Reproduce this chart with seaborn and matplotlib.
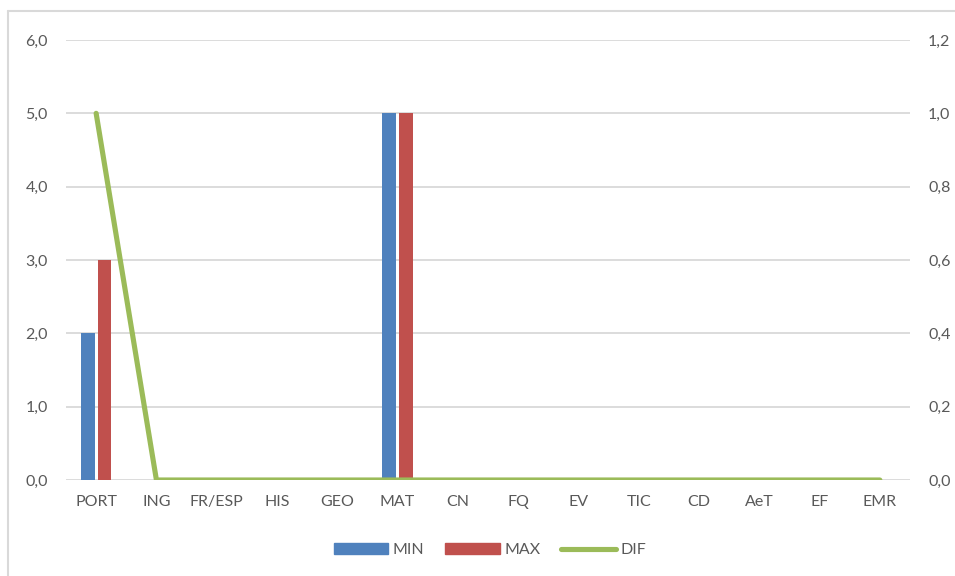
import numpy as np
import pandas as pd
import matplotlib
matplotlib.use("Agg")
import matplotlib.pyplot as plt
from matplotlib.lines import Line2D
from matplotlib.patches import Patch
from matplotlib.ticker import FuncFormatter
import seaborn as sns

# datos
disciplinas = ["PORT", "ING", "FR/ESP", "HIS", "GEO", "MAT", "CN", "FQ",
               "EV", "TIC", "CD", "AeT", "EF", "EMR"]
minimo = [2, 0, 0, 0, 0, 5, 0, 0, 0, 0, 0, 0, 0, 0]
maximo = [3, 0, 0, 0, 0, 5, 0, 0, 0, 0, 0, 0, 0, 0]
dif = [1, 0, 0, 0, 0, 0, 0, 0, 0, 0, 0, 0, 0, 0]

azul, rojo, verde = "#4F81BD", "#C0504D", "#9BBB59"
gris_txt, gris_lin = "#595959", "#D9D9D9"

sns.set_theme(style="white")
plt.rcParams["font.family"] = ["Lato", "DejaVu Sans"]

df = pd.DataFrame({"disc": disciplinas * 2,
                   "valor": minimo + maximo,
                   "serie": ["MIN"] * len(disciplinas) + ["MAX"] * len(disciplinas)})

fig = plt.figure(figsize=(9.55, 5.76), dpi=100)
ax = fig.add_axes([66 / 955, 1 - 480 / 576, 844 / 955, 440 / 576])

sns.barplot(data=df, x="disc", y="valor", hue="serie", order=disciplinas,
            palette={"MIN": azul, "MAX": rojo}, width=0.55, gap=0.18,
            ax=ax, legend=False, saturation=1, linewidth=0)

ax2 = ax.twinx()
sns.lineplot(x=np.arange(len(disciplinas)), y=dif, ax=ax2, color=verde,
             linewidth=3.7, solid_capstyle="round")

ax.set_xlim(-0.5, len(disciplinas) - 0.5)
ax.set_ylim(0, 6)
ax2.set_ylim(0, 1.2)
ax.set_yticks(np.arange(0, 7, 1))
ax2.set_yticks(np.arange(0, 1.21, 0.2))
coma = FuncFormatter(lambda v, p: f"{v:.1f}".replace(".", ","))
ax.yaxis.set_major_formatter(coma)
ax2.yaxis.set_major_formatter(coma)

ax.yaxis.grid(True, color=gris_lin, linewidth=1.3)
ax.set_axisbelow(True)
ax.set_xlabel("")
ax.set_ylabel("")
ax2.set_ylabel("")
for a in (ax, ax2):
    for s in a.spines.values():
        s.set_visible(False)
    a.tick_params(length=0, labelsize=11.5, labelcolor=gris_txt)
ax.tick_params(axis="y", pad=13)
ax2.tick_params(axis="y", pad=13)
ax.tick_params(axis="x", pad=11)

handles = [Patch(color=azul, label="MIN"), Patch(color=rojo, label="MAX"),
           Line2D([], [], color=verde, linewidth=3.7, solid_capstyle="round", label="DIF")]
leg = fig.legend(handles=handles, loc="center", bbox_to_anchor=(0.513, 0.045),
                 ncol=3, frameon=False, fontsize=11.5, handlelength=3.4,
                 handleheight=0.6, columnspacing=1.3, handletextpad=0.3)
for t in leg.get_texts():
    t.set_color(gris_txt)

# marco del gráfico
fig.add_artist(Line2D([8 / 955, 8 / 955], [0, 1 - 11 / 576], color=gris_lin, linewidth=1.5))
fig.add_artist(Line2D([8 / 955, 1], [1 - 11 / 576, 1 - 11 / 576], color=gris_lin, linewidth=1.5))

fig.savefig("out.png", dpi=100)
